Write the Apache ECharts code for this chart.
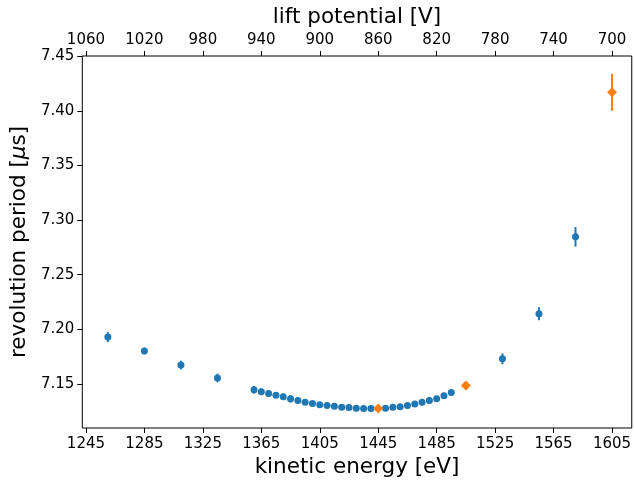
<!DOCTYPE html>
<html>
<head>
<meta charset="utf-8">
<script src="https://cdn.jsdelivr.net/npm/echarts@6/dist/echarts.min.js"></script>
<style>
html,body{margin:0;padding:0;background:#fff;}
#chart{width:634px;height:484px;}
</style>
</head>
<body>
<div id="chart"></div>
<script>
// kinetic energy [eV] of blue points
const blueEnergy = [1260,1285,1310,1335,1360,1365,1370,1375,1380,1385,1390,1395,1400,1405,1410,1415,1420,1425,1430,1435,1440,1450,1455,1460,1465,1470,1475,1480,1485,1490,1495,1530,1555,1580];
// revolution period [us] of blue points
const bluePeriod = [7.1928,7.1801,7.1672,7.1553,7.1445,7.1427,7.1412,7.1396,7.1381,7.1362,7.1348,7.1332,7.1320,7.1307,7.1302,7.1295,7.1286,7.1283,7.1277,7.1274,7.1274,7.1277,7.1286,7.1289,7.1302,7.1314,7.1332,7.1348,7.1362,7.1390,7.1421,7.1729,7.2142,7.2846];
// error of blue points
const blueError = [0.0045,0.003,0.004,0.004,0.0035,0.003,0.0025,0.0025,0.003,0.0035,0.003,0.0025,0.002,0.002,0.002,0.002,0.002,0.002,0.002,0.002,0.002,0.002,0.002,0.002,0.0025,0.0025,0.003,0.003,0.0025,0.002,0.002,0.005,0.006,0.009];
// orange points
const orangeEnergy = [1445,1505,1605];
const orangePeriod = [7.1274,7.1485,7.4170];
const orangeError = [0.002,0.002,0.017];
// tick labels
const energyTicks = [1245,1285,1325,1365,1405,1445,1485,1525,1565,1605];
const potentialTicks = [1060,1020,980,940,900,860,820,780,740,700];
const periodTicks = [7.15,7.20,7.25,7.30,7.35,7.40,7.45];
// lift potential = offset - kinetic energy
const energyOffset = 2305;
const xMin = 1242.5, xMax = 1618.5;
const yMin = 7.1095, yMax = 7.4503;

const FONT = 'DejaVu Sans';
const blue = '#1f77b4', orange = '#ff7f0e';

function pts(xs, ys) { return xs.map((x, i) => [x, ys[i]]); }
function errData(xs, ys, es) { return xs.map((x, i) => [x, ys[i] - es[i], ys[i] + es[i]]); }
function errSeries(xs, ys, es, color) {
  return {
    type: 'custom',
    xAxisIndex: 0, yAxisIndex: 0,
    silent: true,
    data: errData(xs, ys, es),
    encode: { x: 0, y: [1, 2] },
    renderItem: function (params, api) {
      const p1 = api.coord([api.value(0), api.value(1)]);
      const p2 = api.coord([api.value(0), api.value(2)]);
      return { type: 'line', shape: { x1: p1[0], y1: p1[1], x2: p2[0], y2: p2[1] },
               style: { stroke: color, lineWidth: 2 } };
    }
  };
}

const chart = echarts.init(document.getElementById('chart'), null, { renderer: 'canvas' });
chart.setOption({
  animation: false,
  backgroundColor: '#fff',
  grid: { left: 79, right: 1, top: 56, bottom: 56, show: true, borderColor: '#000', borderWidth: 1, backgroundColor: 'transparent' },
  xAxis: [
    {
      type: 'value', position: 'bottom', min: xMin, max: xMax,
      name: 'kinetic energy [eV]', nameLocation: 'middle', nameGap: 27,
      nameTextStyle: { fontFamily: FONT, fontSize: 21.5, color: '#000' },
      axisLine: { show: false },
      axisTick: { show: true, inside: false, length: 5, lineStyle: { color: '#000', width: 1 }, customValues: energyTicks },
      axisLabel: { show: true, margin: 9, fontFamily: FONT, fontSize: 15, color: '#000', customValues: energyTicks, formatter: v => String(v) },
      splitLine: { show: false }
    },
    {
      type: 'value', position: 'top', inverse: true,
      min: energyOffset - xMax, max: energyOffset - xMin,
      name: 'lift potential [V]', nameLocation: 'middle', nameGap: 24,
      nameTextStyle: { fontFamily: FONT, fontSize: 21.5, color: '#000' },
      axisLine: { show: false },
      axisTick: { show: true, inside: false, length: 5, lineStyle: { color: '#000', width: 1 }, customValues: potentialTicks },
      axisLabel: { show: true, margin: 8, fontFamily: FONT, fontSize: 15, color: '#000', customValues: potentialTicks, formatter: v => String(v) },
      splitLine: { show: false }
    }
  ],
  yAxis: [
    {
      type: 'value', min: yMin, max: yMax,
      name: 'revolution period [{i|μ}s]', nameLocation: 'middle', nameGap: 50,
      nameTextStyle: { fontFamily: FONT, fontSize: 21.5, color: '#000',
        rich: { i: { fontFamily: FONT, fontSize: 21.5, fontStyle: 'italic', color: '#000' } } },
      axisLine: { show: false },
      axisTick: { show: true, inside: false, length: 5, lineStyle: { color: '#000', width: 1 }, customValues: periodTicks },
      axisLabel: { show: true, margin: 8, fontFamily: FONT, fontSize: 15, color: '#000', customValues: periodTicks, formatter: v => v.toFixed(2) },
      splitLine: { show: false }
    }
  ],
  series: [
    errSeries(blueEnergy, bluePeriod, blueError, blue),
    { type: 'scatter', xAxisIndex: 0, yAxisIndex: 0, data: pts(blueEnergy, bluePeriod), symbol: 'circle', symbolSize: 7, itemStyle: { color: blue, opacity: 1 }, silent: true },
    errSeries(orangeEnergy, orangePeriod, orangeError, orange),
    { type: 'scatter', xAxisIndex: 0, yAxisIndex: 0, data: pts(orangeEnergy, orangePeriod), symbol: 'diamond', symbolSize: 10, itemStyle: { color: orange, opacity: 1 }, silent: true }
  ]
});
</script>
</body>
</html>
